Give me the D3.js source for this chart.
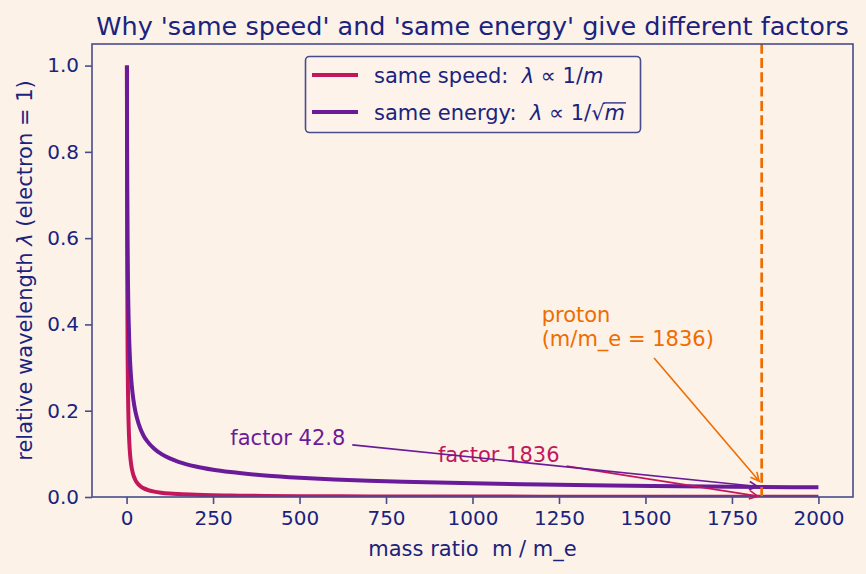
<!DOCTYPE html>
<html>
<head>
<meta charset="utf-8">
<script src="https://cdn.jsdelivr.net/npm/d3@7"></script>
<style>
  html, body { margin: 0; padding: 0; background: #fdf2e8; }
  svg { display: block; }
  text { font-family: "DejaVu Sans", sans-serif; }
</style>
</head>
<body>
<svg id="chart" width="866" height="574"></svg>
<script>
// ---- data ----
const massRatio    = [1, 1.5, 2, 3, 4, 5, 6, 8, 10, 12, 15, 20, 25, 30, 40, 50, 60, 80, 100, 125, 150, 200, 250, 300, 400, 500, 600, 700, 800, 1000, 1200, 1400, 1600, 1836, 2000];
const lambdaSpeed  = [1, 0.667, 0.5, 0.333, 0.25, 0.2, 0.167, 0.125, 0.1, 0.0833, 0.0667, 0.05, 0.04, 0.0333, 0.025, 0.02, 0.0167, 0.0125, 0.01, 0.008, 0.0067, 0.005, 0.004, 0.0033, 0.0025, 0.002, 0.0017, 0.0014, 0.00125, 0.001, 0.00083, 0.00071, 0.000625, 0.000545, 0.0005];
const lambdaEnergy = [1, 0.816, 0.707, 0.577, 0.5, 0.447, 0.408, 0.354, 0.316, 0.289, 0.258, 0.224, 0.2, 0.183, 0.158, 0.141, 0.129, 0.112, 0.1, 0.0894, 0.0816, 0.0707, 0.0632, 0.0577, 0.05, 0.0447, 0.0408, 0.0378, 0.0354, 0.0316, 0.0289, 0.0267, 0.025, 0.0233, 0.0224];
const xTicks = [0, 250, 500, 750, 1000, 1250, 1500, 1750, 2000];
const yTicks = [0.0, 0.2, 0.4, 0.6, 0.8, 1.0];
const protonMass = 1836;
const annotationTexts   = [["factor 1836"], ["factor 42.8"], ["proton", "(m/m_e = 1836)"]];
const annotationTextX   = [900, 300, 1200];
const annotationTextY   = [0.08, 0.12, 0.35];
const annotationTargetX = [1836, 1836, 1836];
const annotationTargetY = [0.000545, 0.0233, 0.03];
const annotationColors  = ["#c2185b", "#6a1b9a", "#ef6c00"];

// ---- styling ----
const W = 866, H = 574;
const M = { left: 92, right: 13, top: 44, bottom: 77 };
const navy = "#1a237e", spine = "#474c8c";
const cSpeed = "#c2185b", cEnergy = "#6a1b9a", cProton = "#ef6c00";

const svg = d3.select("#chart");
svg.append("rect").attr("width", W).attr("height", H).attr("fill", "#fdf2e8");

const x = d3.scaleLinear().domain([-99.95, 2099.95]).range([M.left, W - M.right]);
const y = d3.scaleLinear().domain([0, 1.05]).range([H - M.bottom, M.top]);

const plot = svg.append("g");
const clip = svg.append("clipPath").attr("id", "clip")
  .append("rect").attr("x", M.left).attr("y", M.top)
  .attr("width", W - M.left - M.right).attr("height", H - M.top - M.bottom);

const line = (vals) => d3.line()
  .x((d, i) => x(massRatio[i]))
  .y((d) => y(d))
  .curve(d3.curveMonotoneX)(vals);

const curves = plot.append("g").attr("clip-path", "url(#clip)");
curves.append("path").attr("d", line(lambdaSpeed))
  .attr("fill", "none").attr("stroke", cSpeed).attr("stroke-width", 4)
  .attr("stroke-linejoin", "round");
curves.append("path").attr("d", line(lambdaEnergy))
  .attr("fill", "none").attr("stroke", cEnergy).attr("stroke-width", 4)
  .attr("stroke-linejoin", "round");

// proton vertical dashed line
curves.append("line")
  .attr("x1", x(protonMass)).attr("x2", x(protonMass))
  .attr("y1", y.range()[0]).attr("y2", y.range()[1])
  .attr("stroke", cProton).attr("stroke-width", 2.7)
  .attr("stroke-dasharray", "10,4.3");

// ---- axes ----
const xAxis = d3.axisBottom(x).tickValues(xTicks).tickSize(7).tickPadding(7)
  .tickFormat(d3.format("d"));
const yAxis = d3.axisLeft(y).tickValues(yTicks).tickSize(7).tickPadding(6)
  .tickFormat(d3.format(".1f"));

const gx = svg.append("g").attr("transform", `translate(0,${H - M.bottom})`).call(xAxis);
const gy = svg.append("g").attr("transform", `translate(${M.left},0)`).call(yAxis);
[gx, gy].forEach(g => {
  g.select(".domain").remove();
  g.selectAll(".tick line").attr("stroke", spine).attr("stroke-width", 1.6);
  g.selectAll(".tick text").attr("fill", navy).style("font-size", "20px")
    .style("font-family", "DejaVu Sans");
});

// spines
svg.append("rect").attr("x", M.left).attr("y", M.top)
  .attr("width", W - M.left - M.right).attr("height", H - M.top - M.bottom)
  .attr("fill", "none").attr("stroke", spine).attr("stroke-width", 1.6);

// ---- annotations ----
function drawArrow(g, x0, y0, x1, y1, color) {
  const dx = x1 - x0, dy = y1 - y0, L = Math.hypot(dx, dy);
  const ux = dx / L, uy = dy / L;
  const tx = x1 - ux * 4, ty = y1 - uy * 4;       // shrinkB
  g.append("line").attr("x1", x0).attr("y1", y0).attr("x2", tx).attr("y2", ty)
    .attr("stroke", color).attr("stroke-width", 1.6);
  const hl = 8.4, hw = 4.2;
  const bx = tx - ux * hl, by = ty - uy * hl;
  g.append("path")
    .attr("d", `M${bx - uy * hw},${by + ux * hw}L${tx},${ty}L${bx + uy * hw},${by - ux * hw}`)
    .attr("fill", "none").attr("stroke", color).attr("stroke-width", 1.6)
    .attr("stroke-linejoin", "miter");
}

annotationTexts.forEach((lines, k) => {
  const g = svg.append("g");
  const tg = g.append("g");
  const lh = 24.5;
  lines.forEach((s, j) => {
    tg.append("text")
      .attr("x", x(annotationTextX[k]))
      .attr("y", y(annotationTextY[k]) - (lines.length - 1 - j) * lh)
      .attr("fill", annotationColors[k]).style("font-size", "21px")
      .text(s);
  });
  const bb = tg.node().getBBox();
  const pad = 3;
  const bx0 = bb.x - pad, bx1 = bb.x + bb.width + pad;
  const by0 = bb.y - pad, by1 = bb.y + bb.height + pad;
  const cx = bb.x + bb.width / 2, cy = bb.y + bb.height / 2;
  const px = x(annotationTargetX[k]), py = y(annotationTargetY[k]);
  const dx = px - cx, dy = py - cy;
  // clip center->target against bbox
  let t = Infinity;
  if (dx > 0) t = Math.min(t, (bx1 - cx) / dx);
  if (dx < 0) t = Math.min(t, (bx0 - cx) / dx);
  if (dy > 0) t = Math.min(t, (by1 - cy) / dy);
  if (dy < 0) t = Math.min(t, (by0 - cy) / dy);
  const L = Math.hypot(dx, dy);
  let sx = cx + dx * t, sy = cy + dy * t;
  sx += dx / L * 4; sy += dy / L * 4;   // shrinkA
  const ag = g.insert("g", ":first-child");
  drawArrow(k === 1 ? g : ag, sx, sy, px, py, annotationColors[k]);
});

// ---- title & labels ----
svg.append("text").attr("x", (M.left + W - M.right) / 2).attr("y", 35)
  .attr("text-anchor", "middle").attr("fill", navy).style("font-size", "25.5px")
  .text("Why 'same speed' and 'same energy' give different factors");

svg.append("text").attr("x", (M.left + W - M.right) / 2).attr("y", 556)
  .attr("text-anchor", "middle").attr("fill", navy).style("font-size", "21px")
  .attr("xml:space", "preserve").style("white-space", "pre")
  .text("mass ratio  m / m_e");

const yl = svg.append("text")
  .attr("transform", `translate(32,${(M.top + H - M.bottom) / 2}) rotate(-90)`)
  .attr("text-anchor", "middle").attr("fill", navy).style("font-size", "21px");
yl.append("tspan").text("relative wavelength ");
yl.append("tspan").style("font-style", "italic").text("λ");
yl.append("tspan").text(" (electron = 1)");

// ---- legend ----
const lg = svg.append("g");
lg.append("rect").attr("x", 305.5).attr("y", 56.5).attr("width", 335).attr("height", 76)
  .attr("rx", 4).attr("fill", "#fdf3ea").attr("fill-opacity", 0.9)
  .attr("stroke", spine).attr("stroke-width", 1.6);
const legendRows = [
  { color: cSpeed, label: "same speed:  ", sqrt: false, ly: 75 },
  { color: cEnergy, label: "same energy:  ", sqrt: true, ly: 112 }
];
legendRows.forEach(r => {
  lg.append("line").attr("x1", 312).attr("x2", 358).attr("y1", r.ly).attr("y2", r.ly)
    .attr("stroke", r.color).attr("stroke-width", 4);
  const t = lg.append("text").attr("x", 374).attr("y", r.ly + 7.5)
    .attr("fill", navy).style("font-size", "21px")
    .attr("xml:space", "preserve").style("white-space", "pre");
  t.append("tspan").text(r.label);
  t.append("tspan").style("font-style", "italic").text("λ");
  t.append("tspan").text(" ∝ 1/");
  if (r.sqrt) t.append("tspan").text("√");
  t.append("tspan").style("font-style", "italic").text("m");
  if (r.sqrt) {
    const node = t.node();
    const n = node.getNumberOfChars();
    const sq = node.getExtentOfChar(n - 2);
    const mm = node.getExtentOfChar(n - 1);
    const oy = r.ly + 7.5 - 16.6;
    lg.append("line").attr("x1", sq.x + sq.width - 1.2).attr("x2", mm.x + mm.width + 1)
      .attr("y1", oy).attr("y2", oy).attr("stroke", navy).attr("stroke-width", 1.3);
  }
});
</script>
</body>
</html>
